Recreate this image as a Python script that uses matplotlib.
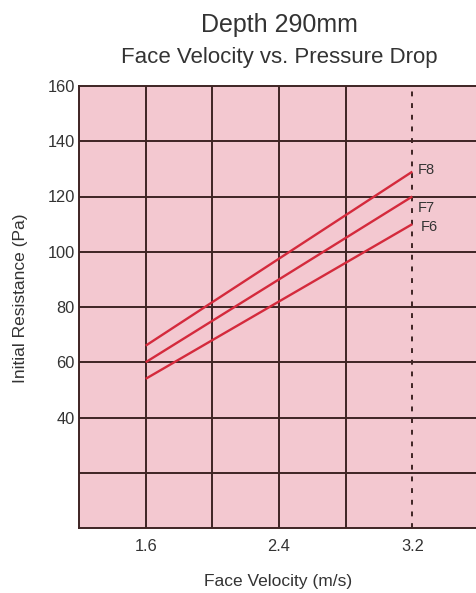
import matplotlib as mpl
mpl.use("Agg")
import matplotlib.pyplot as plt

mpl.rcParams['font.family'] = ['Liberation Sans', 'DejaVu Sans']

# data: face velocity (m/s) vs initial resistance (Pa)
velocity = [1.6, 3.2]
grades = ["F6", "F7", "F8"]
resistance = {
    "F6": [54, 110],
    "F7": [60, 120],
    "F8": [66, 129],
}
label_y = {"F6": 109, "F7": 116, "F8": 129.5}
label_dx = {"F6": 0.05, "F7": 0.03, "F8": 0.03}

x_ticks = [1.6, 2.4, 3.2]
x_grid = [1.6, 2.0, 2.4, 2.8]
x_rated = 3.2
y_ticks = [40, 60, 80, 100, 120, 140, 160]
y_grid = [20, 40, 60, 80, 100, 120, 140]

BG = "#F3C8D0"
GRID = "#3E2424"
RED = "#D42A3C"
TXT = "#333333"

fig = plt.figure(figsize=(4.77, 5.93), dpi=100)
ax = fig.add_axes([79 / 477, 65 / 593, 400 / 477, 442 / 593])
ax.set_facecolor(BG)

ax.set_xlim(1.2, 3.6)
ax.set_ylim(0, 160)

for yv in y_grid:
    ax.axhline(yv, color=GRID, lw=1.4, zorder=1)
for xv in x_grid:
    ax.axvline(xv, color=GRID, lw=1.4, zorder=1)
ax.axvline(x_rated, color=GRID, lw=1.4, ls=(0, (2.5, 3.5)), zorder=1)

for g in grades:
    ax.plot(velocity, resistance[g], color=RED, lw=1.7, zorder=3,
            solid_capstyle="butt")
    ax.text(velocity[-1] + label_dx[g], label_y[g], g, fontsize=10.5,
            color=TXT, va="center", ha="left", zorder=4)

for s in ax.spines.values():
    s.set_color(GRID)
    s.set_linewidth(1.4)

ax.set_xticks(x_ticks)
ax.set_xticklabels([f"{v:.1f}" for v in x_ticks])
ax.set_yticks(y_ticks)
ax.tick_params(axis="both", length=0, labelsize=11.8, colors=TXT)
ax.tick_params(axis="x", pad=8)
ax.tick_params(axis="y", pad=3)

ax.set_xlabel("Face Velocity (m/s)", fontsize=12.5, color=TXT, va="center")
ax.xaxis.set_label_coords(0.4975, -0.122)
ax.set_ylabel("Initial Resistance (Pa)", fontsize=12.5, color=TXT,
              va="center")
ax.yaxis.set_label_coords(-0.145, 0.52)

fig.text(279 / 477, 1 - 25 / 593, "Depth 290mm", fontsize=18, color=TXT,
         ha="center", va="center")
fig.text(279 / 477, 1 - 57 / 593, "Face Velocity vs. Pressure Drop",
         fontsize=16, color=TXT, ha="center", va="center")

fig.savefig("out.png", dpi=100)
